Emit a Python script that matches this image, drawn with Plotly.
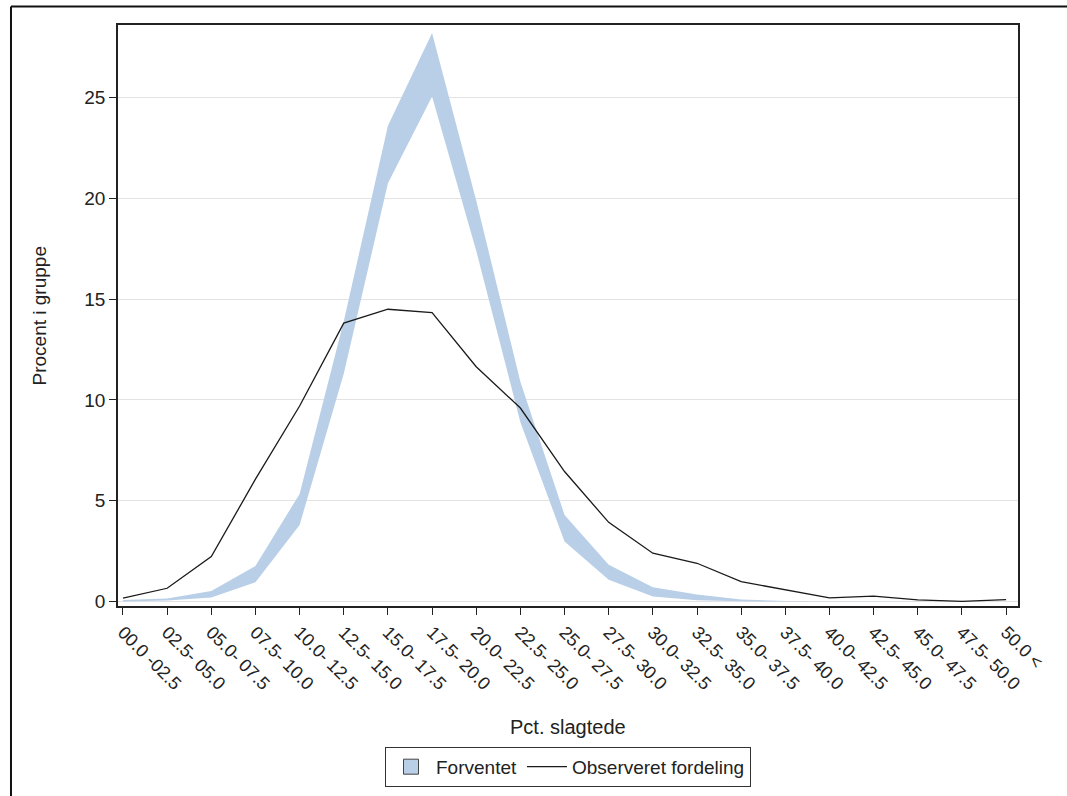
import plotly.graph_objects as go

categories = ["00.0 -02.5", "02.5- 05.0", "05.0- 07.5", "07.5- 10.0", "10.0- 12.5",
              "12.5- 15.0", "15.0- 17.5", "17.5- 20.0", "20.0- 22.5", "22.5- 25.0",
              "25.0- 27.5", "27.5- 30.0", "30.0- 32.5", "32.5- 35.0", "35.0- 37.5",
              "37.5- 40.0", "40.0- 42.5", "42.5- 45.0", "45.0- 47.5", "47.5- 50.0",
              "50.0 <"]

expected_lower = [0.0, 0.05, 0.2, 0.96, 3.8, 11.3, 20.75, 25.05, 17.4, 8.9,
                  2.98, 1.08, 0.25, 0.07, 0.01, 0.0, 0.0, 0.0, 0.0, 0.0, 0.0]
expected_upper = [0.08, 0.15, 0.53, 1.77, 5.34, 13.9, 23.6, 28.2, 19.9, 10.9,
                  4.3, 1.82, 0.71, 0.35, 0.1, 0.03, 0.01, 0.0, 0.0, 0.0, 0.0]
observed = [0.17, 0.66, 2.23, 6.07, 9.7, 13.81, 14.5, 14.33, 11.65, 9.6,
            6.45, 3.93, 2.4, 1.9, 0.99, 0.6, 0.18, 0.27, 0.08, 0.01, 0.1]

x = list(range(len(categories)))
FONT = "Liberation Sans, Arial, sans-serif"
BAND = "#b9cfe7"

fig = go.Figure()
fig.add_trace(go.Scatter(x=x, y=expected_lower, mode="lines", line=dict(width=0, color=BAND),
                         showlegend=False, hoverinfo="skip"))
fig.add_trace(go.Scatter(x=x, y=expected_upper, mode="lines", line=dict(width=0, color=BAND),
                         fill="tonexty", fillcolor=BAND, name="Forventet", showlegend=False))
# legend entry for the band (square swatch)
fig.add_trace(go.Scatter(x=[None], y=[None], mode="markers", name="Forventet",
                         marker=dict(symbol="square", size=15, color=BAND,
                                     line=dict(color="#444", width=1))))
fig.add_trace(go.Scatter(x=x, y=observed, mode="lines", line=dict(width=1.3, color="#1a1a1a"),
                         name="Observeret fordeling"))

fig.update_layout(
    width=1067, height=796,
    margin=dict(l=118, r=49, t=25, b=190, autoexpand=False),
    paper_bgcolor="white", plot_bgcolor="white",
    font=dict(family=FONT, size=18, color="#222"),
    showlegend=True,
    legend=dict(orientation="h", x=0.5, xanchor="center", y=-0.2424, yanchor="top",
                bordercolor="#333", borderwidth=1, font=dict(size=19, color="#222"),
                traceorder="normal", itemwidth=40, tracegroupgap=0),
    xaxis=dict(range=[-0.113, 20.27], tickvals=x, ticktext=categories, tickangle=45,
               ticks="outside", ticklen=7, tickcolor="#222", showgrid=False, zeroline=False,
               showline=True, linecolor="#222", linewidth=1.5, mirror=True, automargin=False,
               tickfont=dict(size=18, color="#222")),
    yaxis=dict(range=[-0.22, 28.6], tickvals=[0, 5, 10, 15, 20, 25],
               ticks="outside", ticklen=7, tickcolor="#222", showgrid=True, gridcolor="#e3e3e3",
               gridwidth=1, zeroline=False, showline=True, linecolor="#222", linewidth=1.5,
               mirror=True, automargin=False, tickfont=dict(size=19, color="#222")),
    annotations=[
        dict(text="Pct. slagtede", x=0.5, xref="paper", y=-0.208, yref="paper",
             xanchor="center", yanchor="middle", showarrow=False, font=dict(size=20, color="#222")),
        dict(text="Procent i gruppe", x=-0.0867, xref="paper", y=0.5, yref="paper",
             xanchor="center", yanchor="middle", textangle=-90, showarrow=False,
             font=dict(size=19, color="#222")),
    ],
    shapes=[
        dict(type="line", xref="paper", yref="paper", x0=-0.1189, x1=1.1, y0=1.0318, y1=1.0318,
             line=dict(color="#111", width=2)),
        dict(type="line", xref="paper", yref="paper", x0=-0.1189, x1=-0.1189, y0=1.0318, y1=-0.4,
             line=dict(color="#111", width=2)),
    ],
)

fig.write_html("out.html")
